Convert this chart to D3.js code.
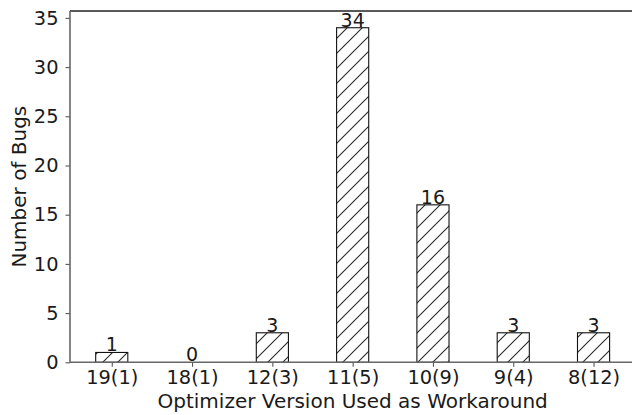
<!DOCTYPE html>
<html>
<head>
<meta charset="utf-8">
<script src="https://cdn.jsdelivr.net/npm/d3@7"></script>
<style>
  html, body { margin: 0; padding: 0; background: #fff; }
  svg { display: block; font-family: "DejaVu Sans", sans-serif; }
</style>
</head>
<body>
<svg id="chart" width="632" height="415"></svg>
<script>
// Bugs fixed by falling back to an older optimizer version
const categories = ["19(1)", "18(1)", "12(3)", "11(5)", "10(9)", "9(4)", "8(12)"];
const bugCounts = [1, 0, 3, 34, 16, 3, 3];
const yTicks = [0, 5, 10, 15, 20, 25, 30, 35];

const svg = d3.select("#chart");
const plot = { left: 70, top: 11, bottom: 362.3, step: 80.3 };
const barWidth = 0.4;

const x = d3.scaleLinear()
  .domain([-0.52, 6.52])
  .range([plot.left, plot.left + 7.04 * plot.step]);
const y = d3.scaleLinear()
  .domain([0, 35.7])
  .range([plot.bottom, plot.top]);

// diagonal hatch fill
const defs = svg.append("defs");
const hatch = defs.append("pattern")
  .attr("id", "hatch")
  .attr("patternUnits", "userSpaceOnUse")
  .attr("width", 15).attr("height", 15);
hatch.append("rect").attr("width", 15).attr("height", 15).attr("fill", "#fff");
hatch.append("path")
  .attr("d", "M-2,17 L17,-2 M-2,2 L2,-2 M13,17 L17,13")
  .attr("stroke", "#2a2a2a").attr("stroke-width", 1.1);

// bars
svg.append("g").selectAll("rect")
  .data(bugCounts)
  .join("rect")
  .attr("x", (d, i) => x(i - barWidth / 2))
  .attr("width", (d, i) => x(i + barWidth / 2) - x(i - barWidth / 2))
  .attr("y", d => y(d))
  .attr("height", d => y(0) - y(d))
  .attr("fill", "url(#hatch)")
  .attr("stroke", "#111")
  .attr("stroke-width", 1.1);

// value labels
svg.append("g").selectAll("text")
  .data(bugCounts)
  .join("text")
  .attr("x", (d, i) => x(i))
  .attr("y", d => y(d) - 1)
  .attr("text-anchor", "middle")
  .attr("font-size", 19)
  .attr("fill", "#1a1a1a")
  .text(d => d);

// axes
const xAxis = d3.axisBottom(x)
  .tickValues(d3.range(categories.length))
  .tickFormat(i => categories[i])
  .tickSize(4.5).tickPadding(3);
const yAxis = d3.axisLeft(y)
  .tickValues(yTicks)
  .tickSize(4.5).tickPadding(7);

const gx = svg.append("g")
  .attr("transform", `translate(0,${plot.bottom})`)
  .call(xAxis);
const gy = svg.append("g")
  .attr("transform", `translate(${plot.left},0)`)
  .call(yAxis);

[gx, gy].forEach(g => {
  g.select(".domain").remove();
  g.selectAll(".tick line").attr("stroke", "#555").attr("stroke-width", 1.1);
  g.selectAll(".tick text")
    .attr("font-size", 19.4)
    .attr("fill", "#1a1a1a")
    .attr("font-family", "DejaVu Sans, sans-serif");
});

// spines
const right = x.range()[1];
svg.append("line")
  .attr("x1", plot.left).attr("x2", right)
  .attr("y1", plot.top).attr("y2", plot.top)
  .attr("stroke", "#222").attr("stroke-width", 1.3);
svg.append("line")
  .attr("x1", plot.left).attr("x2", plot.left)
  .attr("y1", plot.top).attr("y2", plot.bottom)
  .attr("stroke", "#666").attr("stroke-width", 1.6);
svg.append("line")
  .attr("x1", plot.left).attr("x2", right)
  .attr("y1", plot.bottom).attr("y2", plot.bottom)
  .attr("stroke", "#666").attr("stroke-width", 1.6);

// axis titles
svg.append("text")
  .attr("x", (plot.left + right) / 2)
  .attr("y", 408)
  .attr("text-anchor", "middle")
  .attr("font-size", 20)
  .attr("fill", "#1a1a1a")
  .text("Optimizer Version Used as Workaround");
svg.append("text")
  .attr("transform", `translate(25.5,${(plot.top + plot.bottom) / 2}) rotate(-90)`)
  .attr("text-anchor", "middle")
  .attr("font-size", 20)
  .attr("fill", "#1a1a1a")
  .text("Number of Bugs");
</script>
</body>
</html>
